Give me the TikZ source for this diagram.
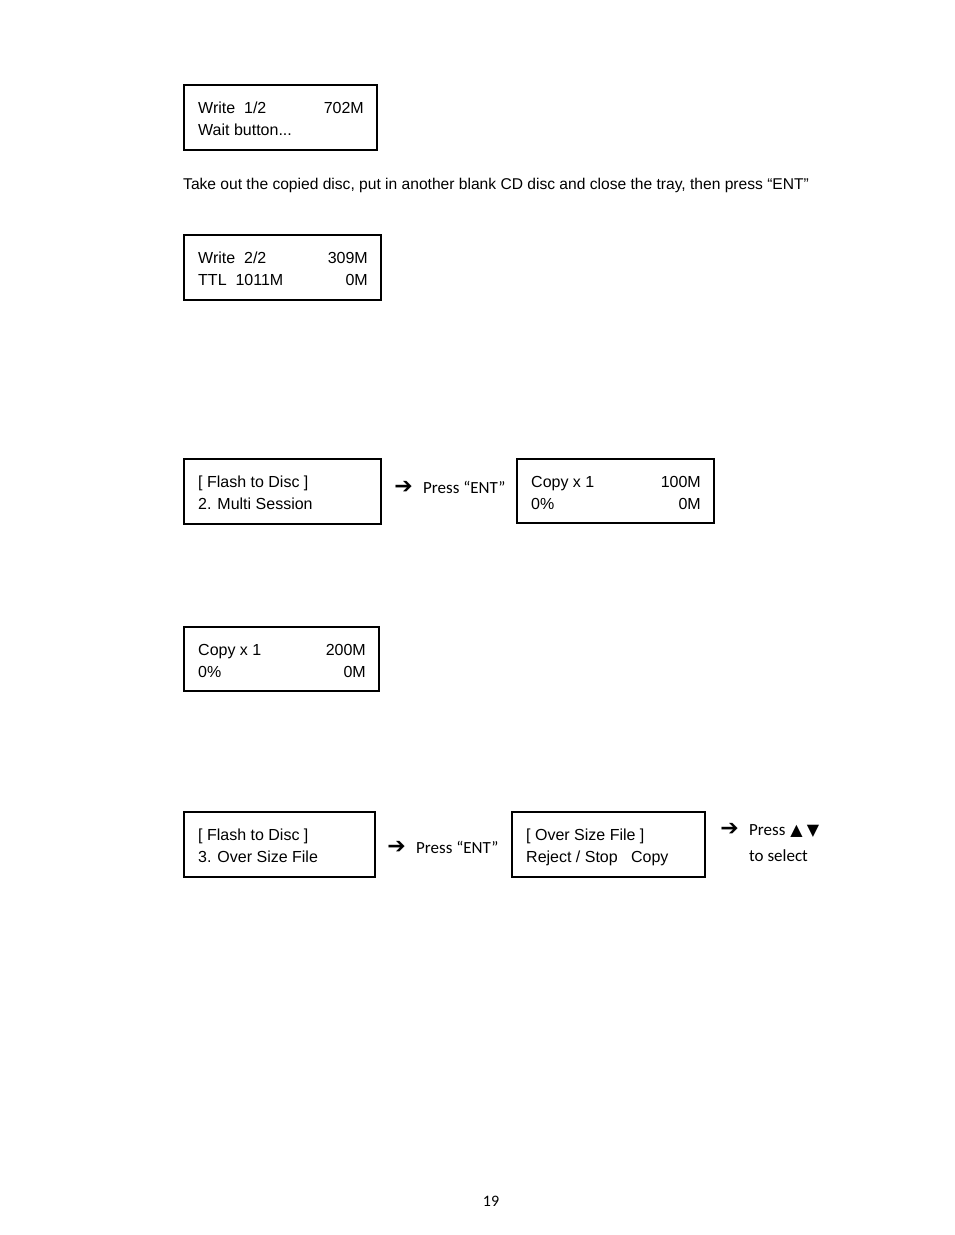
\documentclass[tikz,border=0pt]{standalone}
\usepackage{fontspec}
\setmainfont{Liberation Sans}
\newfontfamily\calib{Carlito}
\newfontfamily\djv{DejaVu Sans}
\begin{document}
\begin{tikzpicture}[x=1pt,y=-1pt,
  lcd/.style={draw=black,line width=1.1pt,inner sep=0pt},
  lt/.style={anchor=base west,inner sep=0pt,font=\fontsize{16}{18}\selectfont},
  rt/.style={anchor=base east,inner sep=0pt,font=\fontsize{16}{18}\selectfont},
  cal/.style={anchor=base west,inner sep=0pt,font=\calib\fontsize{17}{19}\selectfont},
  arr/.style={anchor=center,inner sep=0pt,font=\djv\fontsize{22}{24}\selectfont}]
\useasboundingbox[fill=white] (0,0) rectangle (954,1235);
% box 1
\draw[lcd] (184,85) rectangle (377,150);
\node[lt] (b1a) at (198,113) {Write\ \ 1/2};
\node[rt] (b1b) at (364,113) {702M};
\node[lt] (b1c) at (198,135) {Wait button...};
\node[anchor=base west,inner sep=0pt,font=\fontsize{15.6}{17}\selectfont] (desc) at (183,189)
  {Take out the copied disc, put in another blank CD disc and close the tray, then press “ENT”};
% box 2
\draw[lcd] (184,235) rectangle (381,300);
\node[lt] (b2a) at (198,263) {Write\ \ 2/2};
\node[rt] (b2b) at (368,263) {309M};
\node[lt] (b2c) at (198,285) {TTL\ \ 1011M};
\node[rt] (b2d) at (368,285) {0M};
% box 3
\draw[lcd] (184,459) rectangle (381,524);
\node[lt] (b3a) at (198,487) {[ Flash to Disc ]};
\node[lt] (b3b) at (198,509) {2. Multi Session};
\node[arr] (a1) at (403.5,487) {➔};
\node[cal] (p1) at (423,493) {Press “ENT”};
% box 4
\draw[lcd] (517,459) rectangle (714,523);
\node[lt] (b4a) at (531,487) {Copy x 1};
\node[rt] (b4b) at (701,487) {100M};
\node[lt] (b4c) at (531,509) {0\%};
\node[rt] (b4d) at (701,509) {0M};
% box 5
\draw[lcd] (184,627) rectangle (379,691);
\node[lt] (b5a) at (198,655) {Copy x 1};
\node[rt] (b5b) at (366,655) {200M};
\node[lt] (b5c) at (198,677) {0\%};
\node[rt] (b5d) at (366,677) {0M};
% box 6
\draw[lcd] (184,812) rectangle (375,877);
\node[lt] (b6a) at (198,840) {[ Flash to Disc ]};
\node[lt] (b6b) at (198,862) {3. Over Size File};
\node[arr] (a2) at (396.5,847) {➔};
\node[cal] (p2) at (416,853) {Press “ENT”};
% box 7
\draw[lcd] (512,812) rectangle (705,877);
\node[lt] (b7a) at (526,840) {[ Over Size File ]};
\node[lt] (b7b) at (526,862) {Reject / Stop\ \ \ Copy};
\node[arr] (a3) at (729.5,829) {➔};
\node[cal] (p3) at (749,835) {Press\hspace{5pt}{\djv\fontsize{16}{18}\selectfont ▲\hspace{4pt}▼}};
\node[cal] (p4) at (749,861) {to select};
% page number
\node[anchor=base,inner sep=0pt,font=\calib\fontsize{16}{18}\selectfont] (pg) at (491,1206) {19};
\end{tikzpicture}
\end{document}
